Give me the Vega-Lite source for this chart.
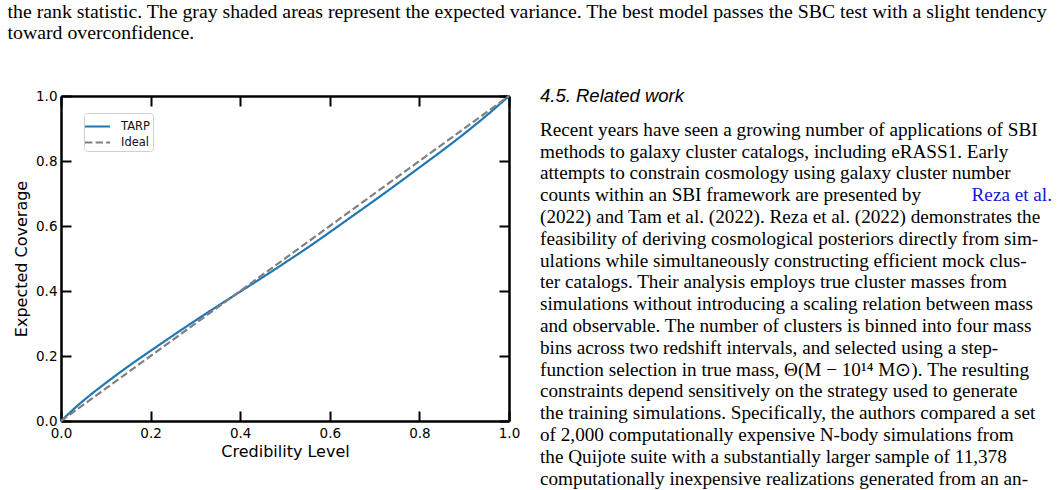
{
  "$schema": "https://vega.github.io/schema/vega-lite/v6.json",
  "background": "white",
  "padding": {"left": 7, "top": 2, "right": 5, "bottom": 0},
  "autosize": {"type": "pad"},
  "bounds": "flush",
  "config": {"view": {"stroke": null}, "concat": {"spacing": 31}, "font": "DejaVu Sans"},
  "title": {
    "text": ["the rank statistic. The gray shaded areas represent the expected variance. The best model passes the SBC test with a slight tendency", "toward overconfidence."],
    "anchor": "start",
    "frame": "bounds",
    "dx": -6,
    "font": "Liberation Serif",
    "fontSize": 19.8,
    "fontWeight": "normal",
    "color": "black",
    "lineHeight": 21,
    "offset": 44
  },
  "datasets": {
    "tarp": [
      {"cred": 0.0, "cov": 0.0, "series": "TARP"},
      {"cred": 0.02, "cov": 0.026, "series": "TARP"},
      {"cred": 0.04, "cov": 0.051, "series": "TARP"},
      {"cred": 0.06, "cov": 0.074, "series": "TARP"},
      {"cred": 0.08, "cov": 0.096, "series": "TARP"},
      {"cred": 0.1, "cov": 0.117, "series": "TARP"},
      {"cred": 0.15, "cov": 0.168, "series": "TARP"},
      {"cred": 0.2, "cov": 0.216, "series": "TARP"},
      {"cred": 0.25, "cov": 0.263, "series": "TARP"},
      {"cred": 0.3, "cov": 0.309, "series": "TARP"},
      {"cred": 0.35, "cov": 0.354, "series": "TARP"},
      {"cred": 0.4, "cov": 0.398, "series": "TARP"},
      {"cred": 0.45, "cov": 0.442, "series": "TARP"},
      {"cred": 0.5, "cov": 0.487, "series": "TARP"},
      {"cred": 0.55, "cov": 0.533, "series": "TARP"},
      {"cred": 0.6, "cov": 0.581, "series": "TARP"},
      {"cred": 0.65, "cov": 0.63, "series": "TARP"},
      {"cred": 0.7, "cov": 0.679, "series": "TARP"},
      {"cred": 0.75, "cov": 0.729, "series": "TARP"},
      {"cred": 0.8, "cov": 0.78, "series": "TARP"},
      {"cred": 0.85, "cov": 0.831, "series": "TARP"},
      {"cred": 0.9, "cov": 0.884, "series": "TARP"},
      {"cred": 0.95, "cov": 0.94, "series": "TARP"},
      {"cred": 1.0, "cov": 1.0, "series": "TARP"}
    ],
    "ideal": [
      {"cred": 0.0, "cov": 0.0, "series": "Ideal"},
      {"cred": 1.0, "cov": 1.0, "series": "Ideal"}
    ],
    "body": [
      {"kind": "head", "row": 0, "col": 0, "txt": "4.5. Related work"},
      {"kind": "body", "row": 1.55, "col": 0, "txt": "Recent years have seen a growing number of applications of SBI"},
      {"kind": "body", "row": 2.55, "col": 0, "txt": "methods to galaxy cluster catalogs, including eRASS1. Early"},
      {"kind": "body", "row": 3.55, "col": 0, "txt": "attempts to constrain cosmology using galaxy cluster number"},
      {"kind": "body", "row": 4.55, "col": 0, "txt": "counts within an SBI framework are presented by"},
      {"kind": "link", "row": 4.55, "col": 1, "txt": "Reza et al."},
      {"kind": "body", "row": 5.55, "col": 0, "txt": "(2022) and Tam et al. (2022). Reza et al. (2022) demonstrates the"},
      {"kind": "body", "row": 6.55, "col": 0, "txt": "feasibility of deriving cosmological posteriors directly from sim-"},
      {"kind": "body", "row": 7.55, "col": 0, "txt": "ulations while simultaneously constructing efficient mock clus-"},
      {"kind": "body", "row": 8.55, "col": 0, "txt": "ter catalogs. Their analysis employs true cluster masses from"},
      {"kind": "body", "row": 9.55, "col": 0, "txt": "simulations without introducing a scaling relation between mass"},
      {"kind": "body", "row": 10.55, "col": 0, "txt": "and observable. The number of clusters is binned into four mass"},
      {"kind": "body", "row": 11.55, "col": 0, "txt": "bins across two redshift intervals, and selected using a step-"},
      {"kind": "body", "row": 12.55, "col": 0, "txt": "function selection in true mass, Θ(M − 10¹⁴ M⊙). The resulting"},
      {"kind": "body", "row": 13.55, "col": 0, "txt": "constraints depend sensitively on the strategy used to generate"},
      {"kind": "body", "row": 14.55, "col": 0, "txt": "the training simulations. Specifically, the authors compared a set"},
      {"kind": "body", "row": 15.55, "col": 0, "txt": "of 2,000 computationally expensive N-body simulations from"},
      {"kind": "body", "row": 16.55, "col": 0, "txt": "the Quijote suite with a substantially larger sample of 11,378"},
      {"kind": "body", "row": 17.55, "col": 0, "txt": "computationally inexpensive realizations generated from an an-"}
    ]
  },
  "hconcat": [
    {
      "width": 448,
      "height": 325,
      "layer": [
        {
          "data": {"name": "tarp"},
          "mark": {"type": "line", "strokeWidth": 2.2, "interpolate": "monotone"},
          "encoding": {
            "x": {
              "field": "cred", "type": "quantitative",
              "scale": {"domain": [0, 1], "nice": false, "zero": false},
              "axis": {
                "orient": "bottom", "values": [0, 0.2, 0.4, 0.6, 0.8, 1.0], "format": ".1f",
                "tickSize": -10, "tickWidth": 2, "tickColor": "black",
                "domainColor": "black", "domainWidth": 2.5, "grid": false,
                "labelFont": "DejaVu Sans", "labelFontSize": 13.5, "labelColor": "black",
                "labelPadding": 15, "labelFlush": false, "labelOverlap": false,
                "title": "Credibility Level", "titleFont": "DejaVu Sans", "titleFontSize": 16,
                "titleFontWeight": "normal", "titleColor": "black", "titlePadding": 4
              }
            },
            "y": {
              "field": "cov", "type": "quantitative",
              "scale": {"domain": [0, 1], "nice": false, "zero": false},
              "axis": {
                "orient": "left", "values": [0, 0.2, 0.4, 0.6, 0.8, 1.0], "format": ".1f",
                "tickSize": -10, "tickWidth": 2, "tickColor": "black",
                "domainColor": "black", "domainWidth": 2.5, "grid": false,
                "labelFont": "DejaVu Sans", "labelFontSize": 13.5, "labelColor": "black",
                "labelPadding": 14, "labelFlush": false, "labelOverlap": false,
                "title": "Expected Coverage", "titleFont": "DejaVu Sans", "titleFontSize": 16,
                "titleFontWeight": "normal", "titleColor": "black", "titlePadding": 6
              }
            },
            "color": {
              "field": "series", "type": "nominal",
              "scale": {"domain": ["TARP", "Ideal"], "range": ["#1f77b4", "#808080"]},
              "legend": {
                "title": null, "orient": "none", "legendX": 23, "legendY": 17,
                "symbolType": "M-1.39,0H1.39", "symbolSize": 324, "symbolStrokeWidth": 2.2,
                "labelFont": "DejaVu Sans", "labelFontSize": 11.5, "labelColor": "#111111",
                "labelOffset": 13, "strokeColor": "#d0d0d0", "cornerRadius": 3,
                "fillColor": "white", "padding": 3, "rowPadding": 0
              }
            },
            "strokeDash": {
              "field": "series", "type": "nominal",
              "scale": {"domain": ["TARP", "Ideal"], "range": [[1, 0], [7.4, 3.2]]},
              "legend": {
                "title": null, "orient": "none", "legendX": 23, "legendY": 17,
                "symbolType": "M-1.39,0H1.39", "symbolSize": 324, "symbolStrokeWidth": 2.2,
                "labelFont": "DejaVu Sans", "labelFontSize": 11.5, "labelColor": "#111111",
                "labelOffset": 13, "strokeColor": "#d0d0d0", "cornerRadius": 3,
                "fillColor": "white", "padding": 3, "rowPadding": 0
              }
            }
          }
        },
        {
          "data": {"name": "ideal"},
          "mark": {"type": "line", "strokeWidth": 2.2},
          "encoding": {
            "x": {
              "field": "cred", "type": "quantitative",
              "axis": {
                "orient": "top", "values": [0, 0.2, 0.4, 0.6, 0.8, 1.0], "labels": false,
                "tickSize": -10, "tickWidth": 2, "tickColor": "black",
                "domainColor": "black", "domainWidth": 2.5, "grid": false, "title": null
              }
            },
            "y": {
              "field": "cov", "type": "quantitative",
              "axis": {
                "orient": "right", "values": [0, 0.2, 0.4, 0.6, 0.8, 1.0], "labels": false,
                "tickSize": -10, "tickWidth": 2, "tickColor": "black",
                "domainColor": "black", "domainWidth": 2.5, "grid": false, "title": null
              }
            },
            "color": {"field": "series", "type": "nominal"},
            "strokeDash": {"field": "series", "type": "nominal"}
          }
        }
      ],
      "resolve": {"axis": {"x": "independent", "y": "independent"}}
    },
    {
      "width": 512,
      "height": 394,
      "data": {"name": "body"},
      "encoding": {
        "x": {"field": "col", "type": "quantitative", "scale": {"domain": [0, 1], "nice": false}, "axis": null},
        "y": {"field": "row", "type": "quantitative", "scale": {"domain": [0, 18.07], "reverse": true, "nice": false, "zero": false}, "axis": null},
        "text": {"field": "txt", "type": "nominal"}
      },
      "layer": [
        {
          "transform": [{"filter": "datum.kind == 'head'"}],
          "mark": {"type": "text", "font": "Liberation Sans", "fontStyle": "italic", "fontSize": 18.5, "align": "left", "baseline": "middle", "color": "black"}
        },
        {
          "transform": [{"filter": "datum.kind == 'body'"}],
          "mark": {"type": "text", "font": "Liberation Serif", "fontSize": 19.2, "align": "left", "baseline": "middle", "color": "black"}
        },
        {
          "transform": [{"filter": "datum.kind == 'link'"}],
          "mark": {"type": "text", "font": "Liberation Serif", "fontSize": 19.2, "align": "right", "baseline": "middle", "color": "#1414d8"}
        }
      ]
    }
  ]
}
